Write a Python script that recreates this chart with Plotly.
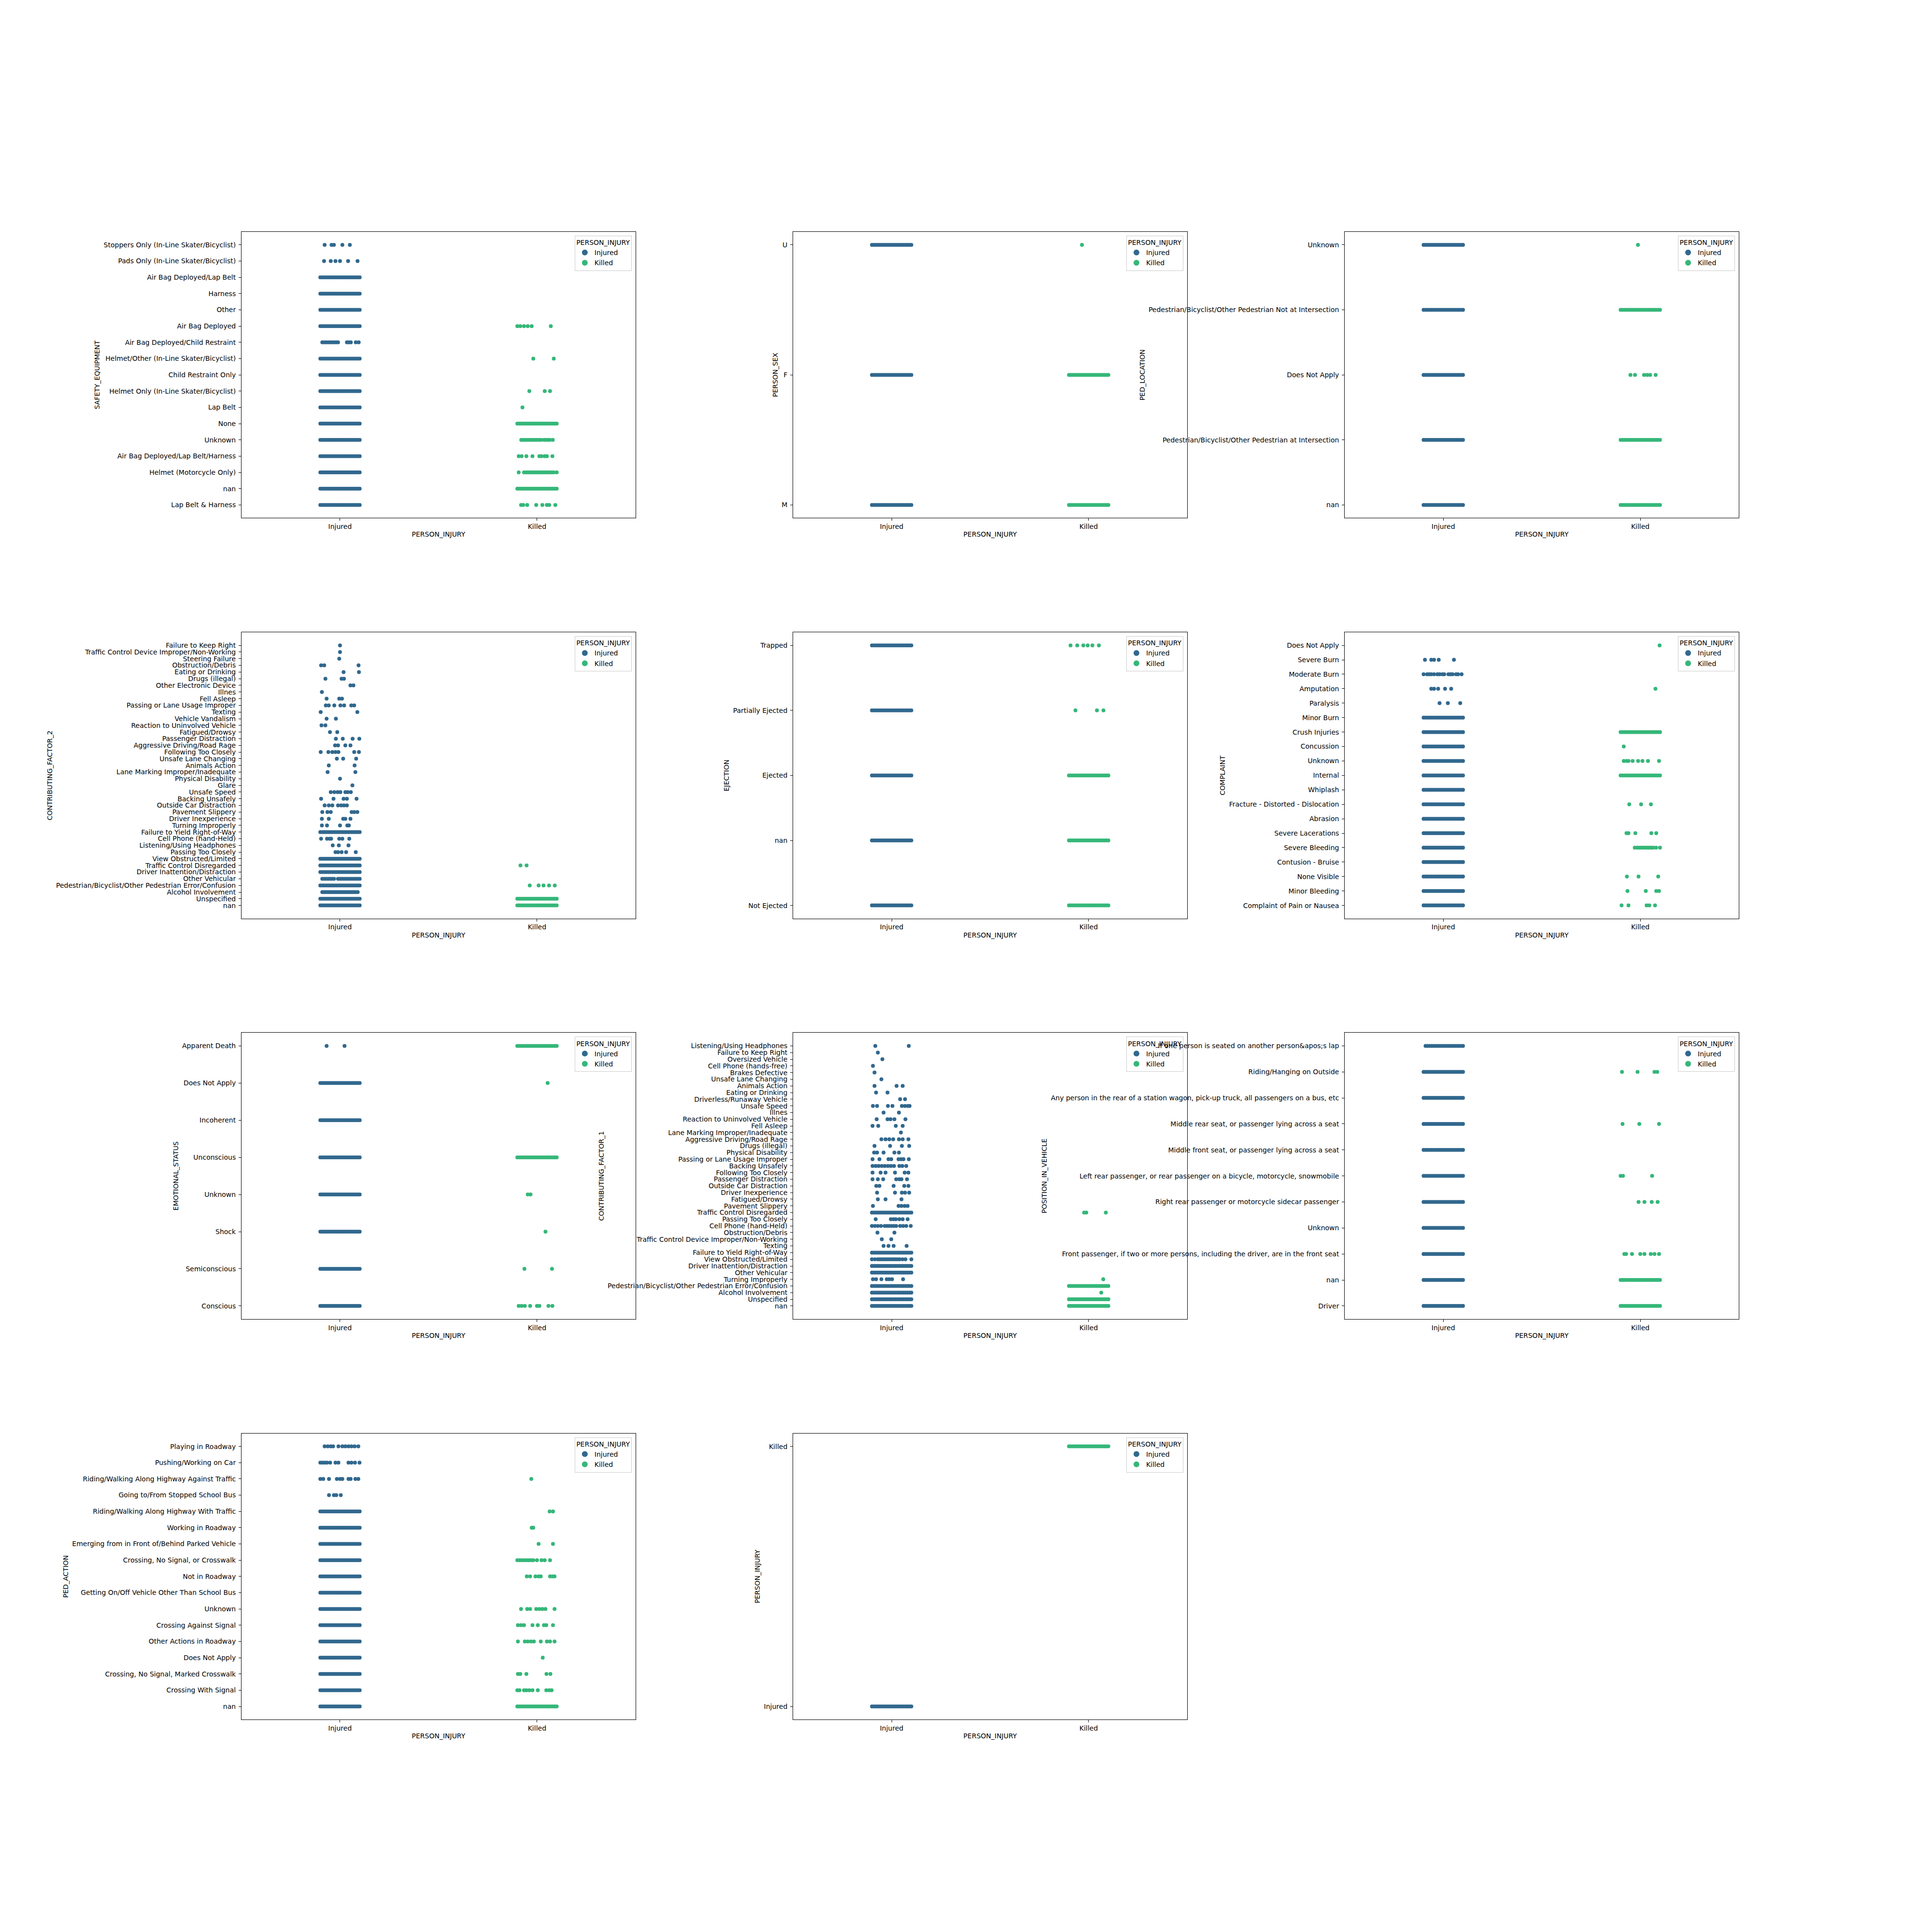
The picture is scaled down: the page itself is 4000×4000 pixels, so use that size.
import plotly.graph_objects as go

# ---------------------------------------------------------------- data
INJURY_LEVELS = ["Injured", "Killed"]
LEVEL_COLORS = ["#31688e", "#35b779"]

# jitter offsets (in category units); DENSE = a solid strip
DENSE = [-0.10, -0.09, -0.08, -0.07, -0.06, -0.05, -0.04, -0.03, -0.02, -0.01, 0.0,
         0.01, 0.02, 0.03, 0.04, 0.05, 0.06, 0.07, 0.08, 0.09, 0.10]

# 1 SAFETY_EQUIPMENT
SAFETY_EQUIPMENT_CATS = ["Stoppers Only (In-Line Skater/Bicyclist)", "Pads Only (In-Line Skater/Bicyclist)",
                         "Air Bag Deployed/Lap Belt", "Harness", "Other", "Air Bag Deployed",
                         "Air Bag Deployed/Child Restraint", "Helmet/Other (In-Line Skater/Bicyclist)",
                         "Child Restraint Only", "Helmet Only (In-Line Skater/Bicyclist)", "Lap Belt", "None",
                         "Unknown", "Air Bag Deployed/Lap Belt/Harness", "Helmet (Motorcycle Only)", "nan",
                         "Lap Belt & Harness"]
SAFETY_EQUIPMENT_INJURED = [
    [-0.078, -0.043, -0.031, 0.012, 0.05],
    [-0.081, -0.047, -0.023, 0.0, 0.041, 0.089],
    DENSE, DENSE, DENSE, DENSE,
    [-0.09, -0.08, -0.07, -0.06, -0.05, -0.04, -0.03, -0.02, -0.01, 0.035, 0.045, 0.055, 0.08, 0.095],
    DENSE, DENSE, DENSE, DENSE, DENSE, DENSE, DENSE, DENSE, DENSE, DENSE]
SAFETY_EQUIPMENT_KILLED = [
    [], [], [], [], [],
    [-0.1, -0.085, -0.066, -0.047, -0.027, 0.07],
    [],
    [-0.019, 0.085],
    [],
    [-0.039, 0.039, 0.066],
    [-0.074],
    DENSE,
    [-0.08, -0.07, -0.06, -0.05, -0.04, -0.03, -0.02, -0.01, 0.0, 0.01, 0.02, 0.035, 0.045, 0.055, 0.065, 0.08],
    [-0.093, -0.078, -0.054, -0.023, 0.012, 0.023, 0.039, 0.05, 0.078],
    [-0.093, -0.066, -0.055, -0.045, -0.035, -0.025, -0.015, -0.005, 0.005, 0.015, 0.025, 0.035, 0.045,
     0.055, 0.065, 0.075, 0.085, 0.1],
    DENSE,
    [-0.081, -0.07, -0.05, -0.004, 0.027, 0.05, 0.062, 0.093]]

# 2 PERSON_SEX
PERSON_SEX_CATS = ["U", "F", "M"]
PERSON_SEX_INJURED = [DENSE, DENSE, DENSE]
PERSON_SEX_KILLED = [[-0.034], DENSE, DENSE]

# 3 PED_LOCATION
PED_LOCATION_CATS = ["Unknown", "Pedestrian/Bicyclist/Other Pedestrian Not at Intersection", "Does Not Apply",
                     "Pedestrian/Bicyclist/Other Pedestrian at Intersection", "nan"]
PED_LOCATION_INJURED = [DENSE, DENSE, DENSE, DENSE, DENSE]
PED_LOCATION_KILLED = [[-0.012], DENSE, [-0.05, -0.027, 0.019, 0.035, 0.05, 0.078], DENSE, DENSE]

# 4 CONTRIBUTING_FACTOR_2
CF2_CATS = ["Failure to Keep Right", "Traffic Control Device Improper/Non-Working", "Steering Failure",
            "Obstruction/Debris", "Eating or Drinking", "Drugs (illegal)", "Other Electronic Device", "Illnes",
            "Fell Asleep", "Passing or Lane Usage Improper", "Texting", "Vehicle Vandalism",
            "Reaction to Uninvolved Vehicle", "Fatigued/Drowsy", "Passenger Distraction",
            "Aggressive Driving/Road Rage", "Following Too Closely", "Unsafe Lane Changing", "Animals Action",
            "Lane Marking Improper/Inadequate", "Physical Disability", "Glare", "Unsafe Speed", "Backing Unsafely",
            "Outside Car Distraction", "Pavement Slippery", "Driver Inexperience", "Turning Improperly",
            "Failure to Yield Right-of-Way", "Cell Phone (hand-Held)", "Listening/Using Headphones",
            "Passing Too Closely", "View Obstructed/Limited", "Traffic Control Disregarded",
            "Driver Inattention/Distraction", "Other Vehicular",
            "Pedestrian/Bicyclist/Other Pedestrian Error/Confusion", "Alcohol Involvement", "Unspecified", "nan"]
CF2_INJURED = [
    [0.0], [0.0], [-0.004],
    [-0.096, -0.08, 0.094],
    [0.018, 0.096],
    [-0.074, 0.008, 0.02],
    [0.053, 0.068],
    [-0.092],
    [-0.068, -0.004, 0.01],
    [-0.072, -0.057, -0.029, 0.002, 0.021, 0.057, 0.072],
    [-0.098, 0.088],
    [-0.068, -0.021],
    [-0.094, -0.074],
    [-0.051, -0.014],
    [-0.021, 0.014, 0.064, 0.098],
    [-0.025, -0.01, 0.027, 0.053],
    [-0.098, -0.059, -0.039, -0.023, -0.008, 0.072, 0.096],
    [-0.016, 0.016, 0.082],
    [-0.057, 0.074],
    [-0.063, 0.078],
    [0.0],
    [0.063],
    [-0.047, -0.029, -0.012, 0.002, 0.027, 0.039, 0.055],
    [-0.096, -0.033, 0.018, 0.035, 0.084],
    [-0.078, -0.057, -0.039, -0.01, 0.006, 0.02, 0.035],
    [-0.09, -0.064, -0.047, 0.059, 0.072, 0.088],
    [-0.092, -0.057, 0.016, 0.027, 0.053],
    [-0.092, -0.066, 0.0, 0.037, 0.045],
    DENSE,
    [-0.096, -0.066, -0.053, -0.045, -0.004, 0.012, 0.047],
    [-0.037, -0.006, 0.043],
    [-0.023, -0.01, 0.008, 0.031, 0.08],
    DENSE, DENSE, DENSE,
    [-0.09, -0.08, -0.07, -0.06, -0.05, -0.04, -0.03, -0.01, 0.0, 0.01, 0.02, 0.03, 0.04, 0.05,
     0.06, 0.07, 0.08, 0.09, 0.1],
    DENSE,
    [-0.09, -0.08, -0.07, -0.06, -0.05, -0.04, -0.03, -0.02, -0.01, 0.0, 0.01, 0.02, 0.03, 0.04,
     0.05, 0.06, 0.07, 0.08, 0.09],
    DENSE, DENSE]
CF2_KILLED = [[] for _ in range(33)] + [
    [-0.084, -0.053],
    [], [],
    [-0.037, 0.008, 0.033, 0.061, 0.09],
    [],
    DENSE, DENSE]

# 5 EJECTION
EJECTION_CATS = ["Trapped", "Partially Ejected", "Ejected", "nan", "Not Ejected"]
EJECTION_INJURED = [DENSE, DENSE, DENSE, DENSE, DENSE]
EJECTION_KILLED = [[-0.092, -0.058, -0.027, -0.005, 0.019, 0.052], [-0.067, 0.042, 0.075], DENSE, DENSE, DENSE]

# 6 COMPLAINT
COMPLAINT_CATS = ["Does Not Apply", "Severe Burn", "Moderate Burn", "Amputation", "Paralysis", "Minor Burn",
                  "Crush Injuries", "Concussion", "Unknown", "Internal", "Whiplash",
                  "Fracture - Distorted - Dislocation", "Abrasion", "Severe Lacerations", "Severe Bleeding",
                  "Contusion - Bruise", "None Visible", "Minor Bleeding", "Complaint of Pain or Nausea"]
COMPLAINT_INJURED = [
    [],
    [-0.093, -0.061, -0.047, -0.023, 0.054],
    [-0.1, -0.082, -0.072, -0.061, -0.047, -0.03, -0.019, -0.005, 0.005, 0.026, 0.037, 0.047, 0.065, 0.075, 0.093],
    [-0.061, -0.047, -0.026, 0.009, 0.04],
    [-0.019, 0.023, 0.086],
    DENSE, DENSE, DENSE, DENSE, DENSE, DENSE, DENSE, DENSE, DENSE, DENSE, DENSE, DENSE, DENSE, DENSE]
COMPLAINT_KILLED = [
    [0.098], [], [], [0.077], [], [],
    DENSE,
    [-0.084],
    [-0.084, -0.07, -0.06, -0.039, -0.011, 0.011, 0.039, 0.095],
    DENSE,
    [],
    [-0.056, 0.004, 0.054],
    [],
    [-0.07, -0.06, -0.025, 0.056, 0.081],
    [-0.028, -0.015, -0.005, 0.005, 0.015, 0.025, 0.035, 0.045, 0.055, 0.065, 0.08, 0.1],
    [],
    [-0.068, -0.009, 0.091],
    [-0.065, 0.028, 0.081, 0.095],
    [-0.095, -0.06, 0.032, 0.046, 0.075]]

# 7 EMOTIONAL_STATUS
EMOTIONAL_STATUS_CATS = ["Apparent Death", "Does Not Apply", "Incoherent", "Unconscious", "Unknown", "Shock",
                         "Semiconscious", "Conscious"]
EMOTIONAL_STATUS_INJURED = [[-0.068, 0.023], DENSE, DENSE, DENSE, DENSE, DENSE, DENSE, DENSE]
EMOTIONAL_STATUS_KILLED = [DENSE, [0.054], [], DENSE, [-0.047, -0.033], [0.043], [-0.064, 0.076],
                           [-0.093, -0.078, -0.062, -0.035, 0.0, 0.012, 0.058, 0.078]]

# 8 CONTRIBUTING_FACTOR_1
CF1_CATS = ["Listening/Using Headphones", "Failure to Keep Right", "Oversized Vehicle", "Cell Phone (hands-free)",
            "Brakes Defective", "Unsafe Lane Changing", "Animals Action", "Eating or Drinking",
            "Driverless/Runaway Vehicle", "Unsafe Speed", "Illnes", "Reaction to Uninvolved Vehicle", "Fell Asleep",
            "Lane Marking Improper/Inadequate", "Aggressive Driving/Road Rage", "Drugs (illegal)",
            "Physical Disability", "Passing or Lane Usage Improper", "Backing Unsafely", "Following Too Closely",
            "Passenger Distraction", "Outside Car Distraction", "Driver Inexperience", "Fatigued/Drowsy",
            "Pavement Slippery", "Traffic Control Disregarded", "Passing Too Closely", "Cell Phone (hand-Held)",
            "Obstruction/Debris", "Traffic Control Device Improper/Non-Working", "Texting",
            "Failure to Yield Right-of-Way", "View Obstructed/Limited", "Driver Inattention/Distraction",
            "Other Vehicular", "Turning Improperly", "Pedestrian/Bicyclist/Other Pedestrian Error/Confusion",
            "Alcohol Involvement", "Unspecified", "nan"]
CF1_INJURED = [
    [-0.083, 0.087],
    [-0.07],
    [-0.047],
    [-0.095],
    [-0.087],
    [-0.052],
    [-0.087, 0.025, 0.056],
    [-0.079, -0.021],
    [0.043, 0.068],
    [-0.095, -0.074, -0.019, 0.004, 0.052, 0.068, 0.083, 0.091],
    [-0.041, 0.037],
    [-0.076, -0.021, -0.006, 0.014, 0.07],
    [-0.097, -0.068, 0.021, 0.056],
    [0.047],
    [-0.052, -0.031, -0.012, 0.008, 0.037, 0.056, 0.085],
    [-0.087, -0.008, 0.052, 0.089],
    [-0.089, -0.074, -0.041, 0.014, 0.037],
    [-0.097, -0.062, -0.016, -0.002, 0.035, 0.048, 0.06, 0.087],
    [-0.097, -0.081, -0.066, -0.05, -0.035, -0.019, -0.004, 0.012, 0.039, 0.054, 0.074],
    [-0.097, -0.056, -0.031, 0.017, 0.066, 0.085],
    [-0.097, -0.07, -0.043, 0.023, 0.039, 0.05, 0.078],
    [-0.078, -0.062, 0.01, 0.064, 0.085],
    [-0.074, 0.017, 0.052, 0.068, 0.089],
    [-0.07, -0.031, 0.05],
    [-0.095, 0.035, 0.05, 0.066, 0.081],
    DENSE,
    [-0.081, -0.004, 0.01, 0.021, 0.039, 0.056, 0.081],
    [-0.1, -0.085, -0.07, -0.054, -0.035, -0.023, -0.012, 0.0, 0.012, 0.023, 0.043, 0.058, 0.074, 0.097],
    [-0.072, 0.014],
    [-0.05, -0.002],
    [-0.041, -0.016, 0.01, 0.076],
    DENSE,
    [-0.1, -0.085, -0.07, -0.06, -0.05, -0.04, -0.03, -0.02, -0.01, 0.0, 0.01, 0.02, 0.03, 0.04,
     0.055, 0.07, 0.1],
    DENSE, DENSE,
    [-0.095, -0.079, -0.052, -0.025, -0.012, 0.002, 0.058],
    DENSE, DENSE, DENSE, DENSE]
CF1_KILLED = [[] for _ in range(25)] + [
    [-0.023, -0.012, 0.087],
    [], [], [], [], [], [], [], [], [],
    [0.074],
    DENSE,
    [0.064],
    DENSE, DENSE]

# 9 POSITION_IN_VEHICLE
POSITION_IN_VEHICLE_CATS = [
    "- If one person is seated on another person&apos;s lap", "Riding/Hanging on Outside",
    "Any person in the rear of a station wagon, pick-up truck, all passengers on a bus, etc",
    "Middle rear seat, or passenger lying across a seat", "Middle front seat, or passenger lying across a seat",
    "Left rear passenger, or rear passenger on a bicycle, motorcycle, snowmobile",
    "Right rear passenger or motorcycle sidecar passenger", "Unknown",
    "Front passenger, if two or more persons, including the driver, are in the front seat", "nan", "Driver"]
POSITION_IN_VEHICLE_INJURED = [
    [-0.09, -0.08, -0.07, -0.06, -0.05, -0.04, -0.03, -0.02, -0.01, 0.0, 0.01, 0.02, 0.03, 0.04, 0.05,
     0.06, 0.07, 0.08, 0.09, 0.1],
    DENSE, DENSE, DENSE, DENSE, DENSE, DENSE, DENSE, DENSE, DENSE, DENSE]
POSITION_IN_VEHICLE_KILLED = [
    [], [-0.093, -0.014, 0.072, 0.086], [], [-0.09, -0.005, 0.095], [], [-0.1, -0.088, 0.06],
    [-0.009, 0.021, 0.058, 0.088], [], [-0.081, -0.072, -0.042, 0.0, 0.021, 0.053, 0.072, 0.095],
    DENSE, DENSE]

# 10 PED_ACTION
PED_ACTION_CATS = ["Playing in Roadway", "Pushing/Working on Car", "Riding/Walking Along Highway Against Traffic",
                   "Going to/From Stopped School Bus", "Riding/Walking Along Highway With Traffic",
                   "Working in Roadway", "Emerging from in Front of/Behind Parked Vehicle",
                   "Crossing, No Signal, or Crosswalk", "Not in Roadway",
                   "Getting On/Off Vehicle Other Than School Bus", "Unknown", "Crossing Against Signal",
                   "Other Actions in Roadway", "Does Not Apply", "Crossing, No Signal, Marked Crosswalk",
                   "Crossing With Signal", "nan"]
PED_ACTION_INJURED = [
    [-0.078, -0.062, -0.047, -0.035, -0.008, 0.012, 0.027, 0.043, 0.058, 0.074, 0.093],
    [-0.1, -0.089, -0.078, -0.066, -0.05, -0.023, -0.008, 0.043, 0.058, 0.076, 0.099],
    [-0.1, -0.085, -0.056, -0.016, 0.0, 0.012, 0.043, 0.054, 0.078, 0.093],
    [-0.056, -0.031, -0.019, 0.004],
    DENSE, DENSE, DENSE, DENSE, DENSE, DENSE, DENSE, DENSE, DENSE, DENSE, DENSE, DENSE, DENSE]
PED_ACTION_KILLED = [
    [], [],
    [-0.029],
    [],
    [0.064, 0.081],
    [-0.027, -0.019],
    [0.008, 0.081],
    [-0.1, -0.089, -0.078, -0.066, -0.054, -0.043, -0.031, -0.019, 0.0, 0.023, 0.039, 0.066],
    [-0.052, -0.035, -0.008, 0.008, 0.019, 0.066, 0.078, 0.089],
    [],
    [-0.081, -0.05, -0.035, -0.004, 0.012, 0.027, 0.043, 0.089],
    [-0.097, -0.081, -0.066, -0.023, 0.004, 0.035, 0.047, 0.081],
    [-0.097, -0.062, -0.047, -0.031, -0.016, 0.019, 0.05, 0.066, 0.089],
    [0.029],
    [-0.097, -0.085, -0.054, 0.048, 0.068],
    [-0.1, -0.089, -0.066, -0.054, -0.039, -0.023, 0.004, 0.047, 0.062, 0.074],
    DENSE]

# 11 PERSON_INJURY
PERSON_INJURY_CATS = ["Killed", "Injured"]
PERSON_INJURY_INJURED = [[], DENSE]
PERSON_INJURY_KILLED = [DENSE, []]

PANELS = [
    ("SAFETY_EQUIPMENT", SAFETY_EQUIPMENT_CATS, SAFETY_EQUIPMENT_INJURED, SAFETY_EQUIPMENT_KILLED),
    ("PERSON_SEX", PERSON_SEX_CATS, PERSON_SEX_INJURED, PERSON_SEX_KILLED),
    ("PED_LOCATION", PED_LOCATION_CATS, PED_LOCATION_INJURED, PED_LOCATION_KILLED),
    ("CONTRIBUTING_FACTOR_2", CF2_CATS, CF2_INJURED, CF2_KILLED),
    ("EJECTION", EJECTION_CATS, EJECTION_INJURED, EJECTION_KILLED),
    ("COMPLAINT", COMPLAINT_CATS, COMPLAINT_INJURED, COMPLAINT_KILLED),
    ("EMOTIONAL_STATUS", EMOTIONAL_STATUS_CATS, EMOTIONAL_STATUS_INJURED, EMOTIONAL_STATUS_KILLED),
    ("CONTRIBUTING_FACTOR_1", CF1_CATS, CF1_INJURED, CF1_KILLED),
    ("POSITION_IN_VEHICLE", POSITION_IN_VEHICLE_CATS, POSITION_IN_VEHICLE_INJURED, POSITION_IN_VEHICLE_KILLED),
    ("PED_ACTION", PED_ACTION_CATS, PED_ACTION_INJURED, PED_ACTION_KILLED),
    ("PERSON_INJURY", PERSON_INJURY_CATS, PERSON_INJURY_INJURED, PERSON_INJURY_KILLED),
]

# ---------------------------------------------------------------- layout
W = H = 4000
LEFT, RIGHT, BOTTOM, TOP = 0.125, 0.9, 0.11, 0.88
WSPACE, HSPACE = 0.4, 0.4
NCOLS, NROWS = 3, 4
cw = (RIGHT - LEFT) / (NCOLS + WSPACE * (NCOLS - 1))
rh = (TOP - BOTTOM) / (NROWS + HSPACE * (NROWS - 1))

FONT = "DejaVu Sans"
fig = go.Figure()
layout = dict(width=W, height=H, margin=dict(l=0, r=0, t=0, b=0), paper_bgcolor="white",
              plot_bgcolor="white", font=dict(family=FONT, size=14, color="black"))

for i, (ycol, cats, inj, kil) in enumerate(PANELS):
    r, c = divmod(i, NCOLS)
    x0 = LEFT + c * cw * (1 + WSPACE)
    y1 = TOP - r * rh * (1 + HSPACE)
    xd = [x0, x0 + cw]
    yd = [y1 - rh, y1]
    sfx = "" if i == 0 else str(i + 1)
    legname = "legend" + sfx
    for lvl_idx, (level, offsets_by_cat) in enumerate(zip(INJURY_LEVELS, (inj, kil))):
        xs, ys = [], []
        for cat, offs in zip(cats, offsets_by_cat):
            for o in offs:
                xs.append(lvl_idx + o)
                ys.append(cat)
        fig.add_trace(go.Scatter(
            x=xs, y=ys, mode="markers", name=level,
            marker=dict(color=LEVEL_COLORS[lvl_idx], size=8, line=dict(width=0)),
            xaxis="x" + sfx, yaxis="y" + sfx, legend=legname, showlegend=True,
            hoverinfo="skip"))
    n = len(cats)
    common = dict(showline=True, mirror=True, linecolor="black", linewidth=1, ticks="outside",
                  ticklen=5, tickwidth=1, tickcolor="black", showgrid=False, zeroline=False,
                  tickfont=dict(family=FONT, size=14, color="black"))
    layout["xaxis" + sfx] = dict(domain=xd, anchor="y" + sfx, range=[-0.5, 1.5], tickmode="array",
                                 tickvals=[0, 1], ticktext=INJURY_LEVELS, ticklabelstandoff=0,
                                 title=dict(text="PERSON_INJURY", standoff=4,
                                            font=dict(family=FONT, size=14, color="black")),
                                 **common)
    pad = 0.05 * (n - 1)
    layout["yaxis" + sfx] = dict(domain=yd, anchor="x" + sfx, type="category", categoryorder="array",
                                 categoryarray=cats, range=[n - 1 + pad, -pad],
                                 tickmode="array", tickvals=cats, ticktext=cats, ticklabelstandoff=3,
                                 title=dict(text=ycol, standoff=4,
                                            font=dict(family=FONT, size=14, color="black")),
                                 **common)
    # the middle-column legend of row 3 sits under the long labels of the next panel
    bg = "rgba(255,255,255,0)" if ycol == "CONTRIBUTING_FACTOR_1" else "rgba(255,255,255,0.8)"
    layout[legname] = dict(x=xd[1] - 8 / W, y=yd[1] - 8 / H, xref="paper", yref="paper",
                           xanchor="right", yanchor="top", bgcolor=bg,
                           bordercolor="#cccccc", borderwidth=1, itemsizing="constant",
                           tracegroupgap=0, font=dict(family=FONT, size=14, color="black"),
                           title=dict(text="PERSON_INJURY", side="top center",
                                      font=dict(family=FONT, size=14, color="black")))

fig.update_layout(**layout)
fig.write_html("out.html")
